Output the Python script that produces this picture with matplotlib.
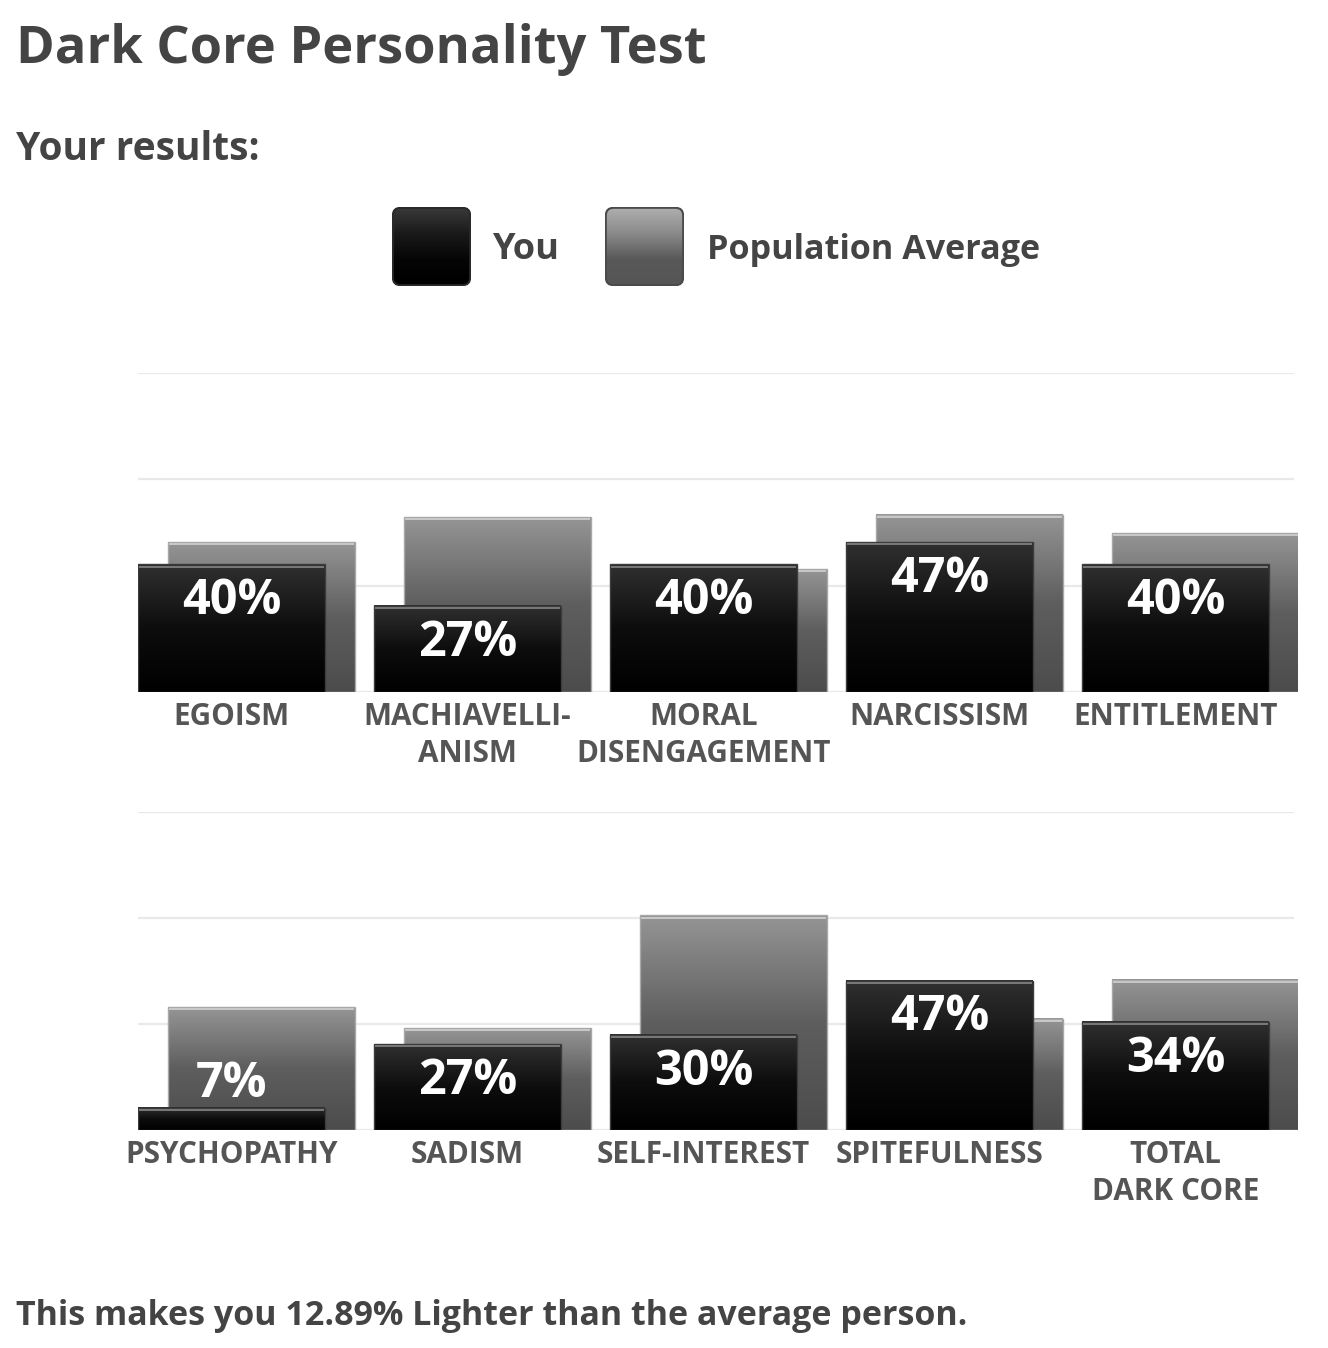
import numpy as np
import matplotlib.pyplot as plt
from matplotlib.patches import FancyBboxPatch
from matplotlib.colors import LinearSegmentedColormap

W, H = 1328, 1348
plt.rcParams['font.family'] = ['Open Sans', 'DejaVu Sans']

# data
top_cats = ['EGOISM', 'MACHIAVELLI-\nANISM', 'MORAL\nDISENGAGEMENT', 'NARCISSISM', 'ENTITLEMENT']
top_you = [40, 27, 40, 47, 40]
top_avg = [47, 54.8, 38.5, 55.5, 49.8]

bottom_cats = ['PSYCHOPATHY', 'SADISM', 'SELF-INTEREST', 'SPITEFULNESS', 'TOTAL\nDARK CORE']
bottom_you = [7, 27, 30, 47, 34]
bottom_avg = [38.6, 32, 67.5, 35, 47.2]

title = 'Dark Core Personality Test'
subtitle = 'Your results:'
footer = 'This makes you 12.89% Lighter than the average person.'

TXT = '#444444'
dark_cmap = LinearSegmentedColormap.from_list('dark', ['#000000', '#0d0d0d', '#303030'])
gray_cmap = LinearSegmentedColormap.from_list('gray', ['#4c4c4c', '#5e5e5e', '#959595'])
leg_dark = LinearSegmentedColormap.from_list('ldark', ['#000000', '#050505', '#1a1a1a', '#3a3a3a'])
leg_gray = LinearSegmentedColormap.from_list('lgray', ['#555555', '#585858', '#8a8a8a', '#b0b0b0'])

BAR_W = 0.792
OFFSET = 0.127


def px(x, y):
    return x / W, 1 - y / H


def gradient_bar(ax, patch, cmap, z):
    x0, w, h = patch.get_x(), patch.get_width(), patch.get_height()
    g = np.linspace(0, 1, 256).reshape(-1, 1)
    ax.imshow(g, cmap=cmap, extent=(x0, x0 + w, 0, h), origin='lower',
              aspect='auto', zorder=z, interpolation='bilinear')


def draw_panel(ax, cats, you, avg):
    x = np.arange(len(cats))
    for yy in [0, 100 / 3, 200 / 3, 100]:
        ax.axhline(yy, xmin=0, xmax=0.996, color='#e9e9e9', lw=1.6, zorder=0)

    gbars = ax.bar(x + OFFSET, avg, width=BAR_W, align='edge', facecolor='none',
                   edgecolor='#a8a8a8', lw=1.0, zorder=1.5)
    dbars = ax.bar(x, you, width=BAR_W, align='edge', facecolor='none',
                   edgecolor='#3c3c3c', lw=1.0, zorder=2.5)
    for p in gbars:
        gradient_bar(ax, p, gray_cmap, 1)
        ax.plot([p.get_x() + 0.01, p.get_x() + p.get_width() - 0.01],
                [p.get_height() - 0.7] * 2, color='#c9c9c9', lw=1.4, zorder=1.6)
    for p in dbars:
        gradient_bar(ax, p, dark_cmap, 2)
        ax.plot([p.get_x() + 0.01, p.get_x() + p.get_width() - 0.01],
                [p.get_height() - 0.7] * 2, color='#7a7a7a', lw=1.4, zorder=2.6)

    for i, v in enumerate(you):
        ax.text(i + BAR_W / 2, max(v - 15.7, 10.3), f'{v}%', ha='center', va='baseline',
                color='white', fontsize=35, weight='bold', zorder=3)
        ax.annotate(cats[i], xy=(i + BAR_W / 2, 0), xytext=(0, -7.5), textcoords='offset points',
                    ha='center', va='top', fontsize=21.4, weight='bold', color='#555555',
                    linespacing=1.27, annotation_clip=False)

    ax.set_xlim(0, 4.915)
    ax.set_ylim(0, 100)
    ax.axis('off')


fig = plt.figure(figsize=(W / 100, H / 100), dpi=100)

ax1 = fig.add_axes([138 / W, 1 - 692 / H, 1160 / W, 319 / H])
draw_panel(ax1, top_cats, top_you, top_avg)
ax2 = fig.add_axes([138 / W, 1 - 1130 / H, 1160 / W, 318 / H])
draw_panel(ax2, bottom_cats, bottom_you, bottom_avg)

# title texts
fig.text(*px(16, 63), title, fontsize=37.7, weight='bold', color=TXT, va='baseline')
fig.text(*px(16, 160), subtitle, fontsize=28, weight='bold', color=TXT, va='baseline')
fig.text(*px(16, 1325), footer, fontsize=24.5, weight='bold', color=TXT, va='baseline')

# legend
legend_items = [('You', leg_dark, '#2a2a2a', 392, 492, 26),
                ('Population Average', leg_gray, '#4a4a4a', 605, 707, 24.6)]
for label, cmap, edge, sx, tx, fs in legend_items:
    lax = fig.add_axes([sx / W, 1 - 286 / H, 79 / W, 79 / H])
    g = np.linspace(0, 1, 256).reshape(-1, 1)
    im = lax.imshow(g, cmap=cmap, extent=(0, 1, 0, 1), origin='lower', aspect='auto')
    box = FancyBboxPatch((0.01, 0.01), 0.98, 0.98, boxstyle='round,pad=0,rounding_size=0.1',
                         facecolor='none', edgecolor=edge, lw=1.5, transform=lax.transAxes)
    lax.add_patch(box)
    im.set_clip_path(box)
    lax.set_xlim(0, 1)
    lax.set_ylim(0, 1)
    lax.axis('off')
    fig.text(*px(tx, 259), label, fontsize=fs, weight='bold', color=TXT, va='baseline')

fig.savefig('out.png', dpi=100, facecolor='white')
